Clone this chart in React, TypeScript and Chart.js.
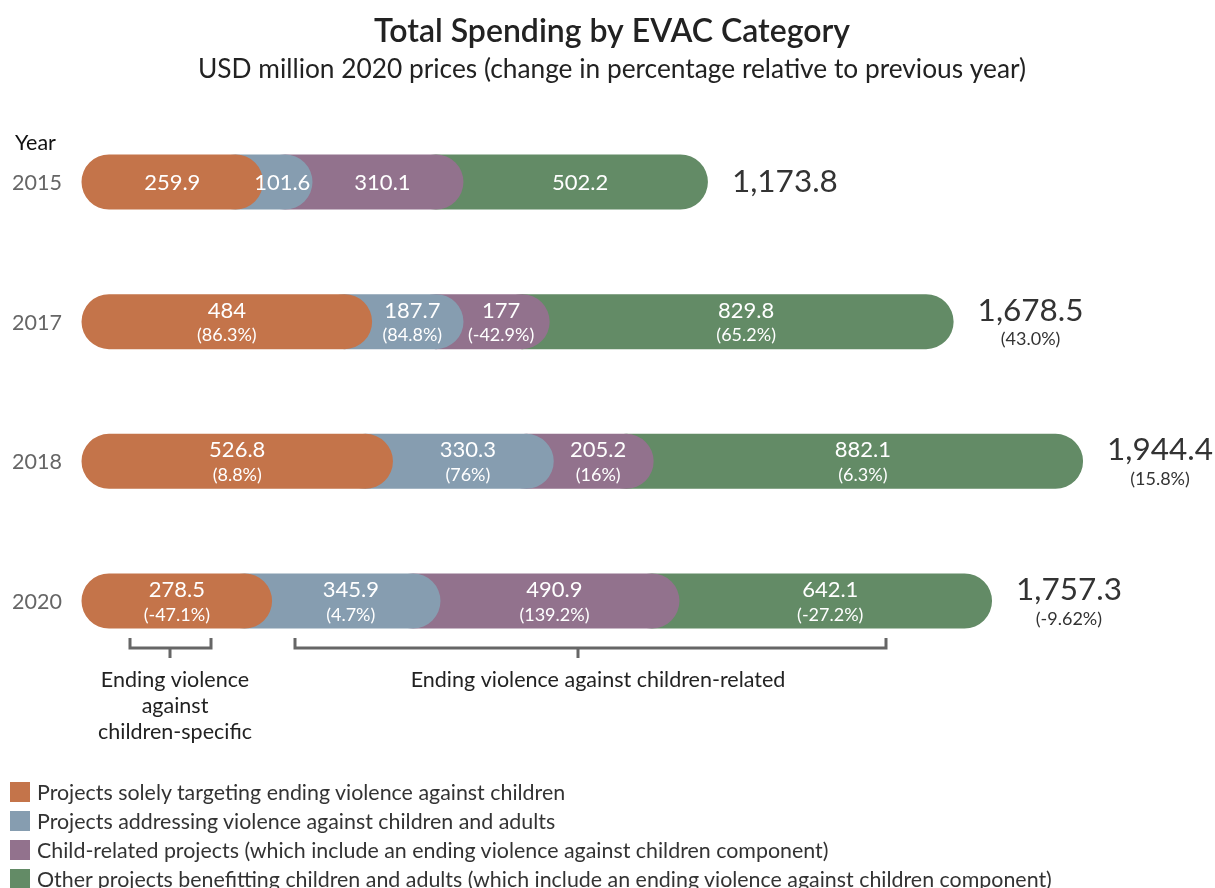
import React, { useEffect, useRef } from "react";
import { Chart, registerables } from "chart.js";

Chart.register(...registerables);

// ---------- data ----------
const years = ["2015", "2017", "2018", "2020"];
const categories = [
  "Projects solely targeting ending violence against children",
  "Projects addressing violence against children and adults",
  "Child-related projects (which include an ending violence against children component)",
  "Other projects benefitting children and adults (which include an ending violence against children component)",
];
const colors = ["#C4744A", "#869DB0", "#92728D", "#638B66"];

const soleEVAC = [259.9, 484, 526.8, 278.5];
const vacAdults = [101.6, 187.7, 330.3, 345.9];
const childRelated = [310.1, 177, 205.2, 490.9];
const otherProjects = [502.2, 829.8, 882.1, 642.1];

const soleChange = [null, "86.3%", "8.8%", "-47.1%"];
const vacChange = [null, "84.8%", "76%", "4.7%"];
const childChange = [null, "-42.9%", "16%", "139.2%"];
const otherChange = [null, "65.2%", "6.3%", "-27.2%"];

const totals = [1173.8, 1678.5, 1944.4, 1757.3];
const totalChange = [null, "43.0%", "15.8%", "-9.62%"];

const series = [soleEVAC, vacAdults, childRelated, otherProjects];
const changes = [soleChange, vacChange, childChange, otherChange];

const BAR_W = 55;
const FONT = "Lato, 'Noto Sans', sans-serif";

function buildDatasets() {
  return series.map((vals, k) => {
    const data: any[] = [];
    years.forEach((y, i) => {
      let start = 0;
      for (let j = 0; j < k; j++) start += series[j][i];
      const end = start + vals[i];
      data.push({ x: start, y }, { x: end, y }, { x: null, y });
    });
    return {
      label: categories[k],
      data,
      borderColor: colors[k],
      backgroundColor: colors[k],
      borderWidth: BAR_W,
      borderCapStyle: "round",
      borderJoinStyle: "round",
      pointRadius: 0,
      pointHoverRadius: 0,
      tension: 0,
      spanGaps: false,
      fill: false,
      clip: false,
    };
  });
}

const labelsPlugin = {
  id: "labelsPlugin",
  afterDatasetsDraw(chart: any) {
    const ctx = chart.ctx;
    const xs = chart.scales.x;
    const ys = chart.scales.y;
    const r = BAR_W / 2;
    ctx.save();
    ctx.textBaseline = "middle";
    years.forEach((yr, i) => {
      const yc = ys.getPixelForValue(i);
      let cum = 0;
      series.forEach((vals, k) => {
        const s = xs.getPixelForValue(cum);
        cum += vals[i];
        const e = xs.getPixelForValue(cum);
        const cx = k === 0 ? (s + e) / 2 : (s + e) / 2 + r * 0.8;
        const pct = changes[k][i];
        ctx.fillStyle = "#ffffff";
        ctx.textAlign = "center";
        ctx.font = `22px ${FONT}`;
        ctx.fillText(String(vals[i]), cx, pct ? yc - 11 : yc + 1);
        if (pct) {
          ctx.font = `18px ${FONT}`;
          ctx.fillText(`(${pct})`, cx, yc + 14);
        }
      });
      // total
      const tip = xs.getPixelForValue(totals[i]) + r;
      const txt = totals[i].toLocaleString("en-US", { minimumFractionDigits: 1, maximumFractionDigits: 1 });
      ctx.font = `31.5px ${FONT}`;
      ctx.fillStyle = "#333333";
      ctx.textAlign = "left";
      const w = ctx.measureText(txt).width;
      const tx = tip + 24;
      const tc = totalChange[i];
      ctx.fillText(txt, tx, tc ? yc - 11 : yc);
      if (tc) {
        ctx.font = `18px ${FONT}`;
        ctx.textAlign = "center";
        ctx.fillText(`(${tc})`, tx + w / 2, yc + 18);
      }
      // year label
      ctx.font = `21.5px ${FONT}`;
      ctx.fillStyle = "#666666";
      ctx.textAlign = "left";
      ctx.fillText(yr, 12, yc + 1);
    });

    // "Year" header
    ctx.font = `21.5px ${FONT}`;
    ctx.fillStyle = "#111111";
    ctx.textAlign = "left";
    ctx.fillText("Year", 15, 143);

    // title & subtitle
    ctx.textAlign = "center";
    ctx.fillStyle = "#222222";
    ctx.font = `600 32px ${FONT}`;
    ctx.fillText("Total Spending by EVAC Category", 612, 32);
    ctx.font = `26.3px ${FONT}`;
    ctx.fillText("USD million 2020 prices (change in percentage relative to previous year)", 612, 70);

    // brackets
    ctx.strokeStyle = "#666666";
    ctx.lineWidth = 3;
    const brackets = [
      { l: 130, r: 211, tick: 170 },
      { l: 295, r: 886, tick: 578 },
    ];
    brackets.forEach((b) => {
      ctx.beginPath();
      ctx.moveTo(b.l, 638);
      ctx.lineTo(b.l, 648);
      ctx.lineTo(b.r, 648);
      ctx.lineTo(b.r, 638);
      ctx.moveTo(b.tick, 648);
      ctx.lineTo(b.tick, 658);
      ctx.stroke();
    });
    ctx.fillStyle = "#222222";
    ctx.font = `21.5px ${FONT}`;
    ctx.textAlign = "center";
    ctx.fillText("Ending violence", 175, 680);
    ctx.fillText("against", 175, 706);
    ctx.fillText("children-specific", 175, 732);
    ctx.fillText("Ending violence against children-related", 598, 680);
    ctx.restore();
  },
};

export default function App() {
  const ref = useRef<HTMLCanvasElement | null>(null);
  useEffect(() => {
    document.body.style.margin = "0";
    let chart: Chart | null = null;
    let cancelled = false;
    const make = () => {
      if (cancelled || !ref.current) return;
      chart = new Chart(ref.current, {
        type: "line",
        data: { datasets: buildDatasets() as any },
        options: {
          animation: false,
          responsive: false,
          events: [],
          layout: { padding: { left: 109, right: 35, top: 182, bottom: 287 } },
          plugins: { legend: { display: false }, tooltip: { enabled: false }, title: { display: false } },
          scales: {
            x: { type: "linear", min: 0, max: 2200, display: false },
            y: { type: "category", labels: years, offset: false, display: false },
          },
        },
        plugins: [labelsPlugin],
      });
    };
    const fontsReady = (document as any).fonts
      ? Promise.all([
          (document as any).fonts.load(`20px Lato`),
          (document as any).fonts.load(`600 30px Lato`),
        ]).catch(() => null)
      : Promise.resolve();
    fontsReady.then(make);
    return () => {
      cancelled = true;
      if (chart) chart.destroy();
    };
  }, []);

  return (
    <div style={{ position: "absolute", left: 0, top: 0, width: 1215, height: 888, background: "#fff" }}>
      <canvas ref={ref} width={1215} height={888} style={{ position: "absolute", left: 0, top: 0 }} />
      <div style={{ position: "absolute", left: 10, top: 777, fontFamily: FONT, fontSize: 21.4, color: "#333" }}>
        {categories.map((c, k) => (
          <div key={c} style={{ display: "flex", alignItems: "center", height: 29 }}>
            <span style={{ width: 20, height: 20, background: colors[k], display: "inline-block", marginRight: 7, flexShrink: 0 }} />
            <span style={{ whiteSpace: "nowrap" }}>{c}</span>
          </div>
        ))}
      </div>
    </div>
  );
}
